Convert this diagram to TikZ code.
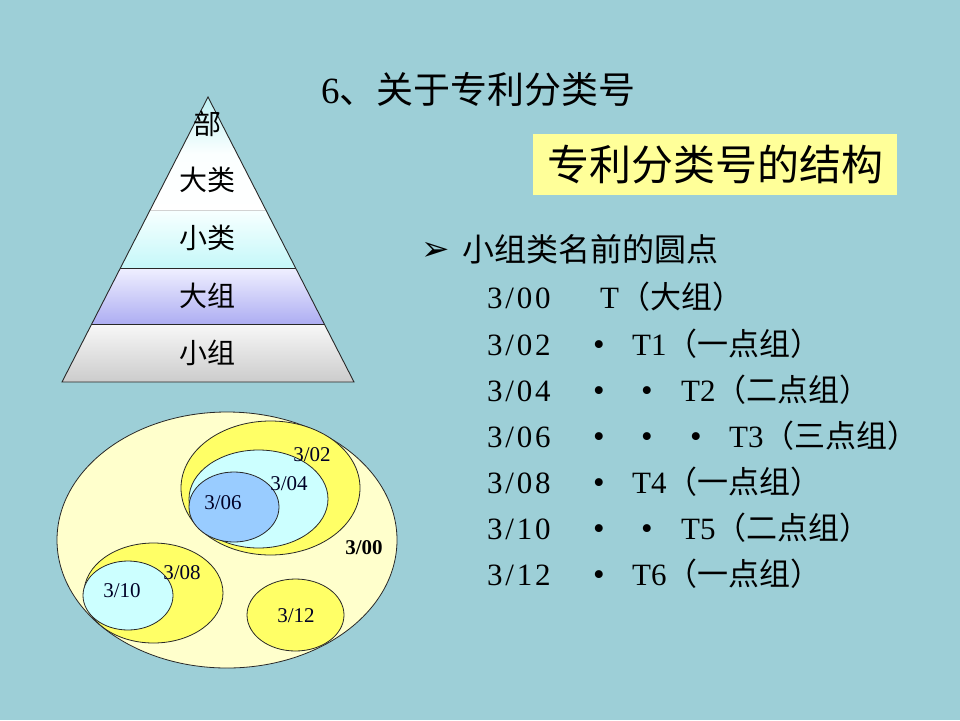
\documentclass[tikz,border=0pt]{standalone}
\usepackage{fontspec}
\setmainfont{Liberation Serif}
\newfontfamily\cjk{Noto Sans CJK SC}
\newfontfamily\djv{DejaVu Sans}
\newfontfamily\numf[LetterSpace=9]{Liberation Serif}
\definecolor{bg}{RGB}{157,207,215}
\definecolor{boxy}{RGB}{255,255,153}
\definecolor{pale}{RGB}{255,255,204}
\definecolor{yel}{RGB}{255,255,102}
\definecolor{lcyan}{RGB}{204,255,255}
\definecolor{lblue}{RGB}{153,204,255}
\definecolor{edge}{RGB}{40,40,40}
\begin{document}
\begin{tikzpicture}[x=1pt,y=-1pt,
  pyrtxt/.style={font=\cjk\fontsize{28}{30}\selectfont, inner sep=0pt},
  ell/.style={draw=edge, line width=0.8pt},
  lbl/.style={font=\fontsize{21}{24}\selectfont, inner sep=0pt, text=black!85!blue},
  rowtxt/.style={font=\fontsize{31}{36}\selectfont, anchor=west, inner sep=0pt, text height=26pt, text depth=6pt},
  numtxt/.style={rowtxt, font=\numf\fontsize{31}{36}\selectfont},
  dotn/.style={font=\fontsize{33}{36}\selectfont, inner sep=0pt, text height=21pt, text depth=0pt}
]
\useasboundingbox (0,0) rectangle (960,720);
\fill[bg] (0,0) rectangle (960,720);

% ---------- pyramid ----------
\coordinate (A) at (208,97);
\coordinate (L1) at (150.1,210); \coordinate (R1) at (265.9,210);
\coordinate (L2) at (120.4,268); \coordinate (R2) at (295.6,268);
\coordinate (L3) at (91.7,324);  \coordinate (R3) at (324.3,324);
\coordinate (L4) at (62,382);    \coordinate (R4) at (354,382);
\shade[top color=lcyan!70!bg, bottom color=white, middle color=white!92!lcyan] (A) -- (R1) -- (L1) -- cycle;
\shade[top color=white!85!lcyan, bottom color=lcyan!85!bg] (L1) -- (R1) -- (R2) -- (L2) -- cycle;
\shade[top color=blue!6!white, bottom color=blue!30!white!90!gray] (L2) -- (R2) -- (R3) -- (L3) -- cycle;
\shade[top color=gray!6, bottom color=gray!40] (L3) -- (R3) -- (R4) -- (L4) -- cycle;
\draw[gray!35, line width=0.8pt] (L1) -- (R1);
\draw[edge, line width=0.9pt] (L2) -- (R2) (L3) -- (R3);
\draw[edge, line width=0.9pt, line join=miter] (A) -- (R4) -- (L4) -- cycle;
\node[pyrtxt] (bu) at (207,124) {部};
\node[pyrtxt] (dl) at (207,180) {大类};
\node[pyrtxt] (xl) at (207,238) {小类};
\node[pyrtxt] (dz) at (207,296) {大组};
\node[pyrtxt] (xz) at (207,353) {小组};

% ---------- ellipses ----------
\filldraw[ell, fill=pale]  (227,540) ellipse [x radius=170pt, y radius=128pt];
\filldraw[ell, fill=yel]   (270.5,488) ellipse [x radius=89.5pt, y radius=67pt];
\filldraw[ell, fill=lcyan] (258.5,499) ellipse [x radius=69.5pt, y radius=49pt];
\filldraw[ell, fill=lblue] (234,507) ellipse [x radius=45pt, y radius=35pt];
\filldraw[ell, fill=yel]   (153.5,593) ellipse [x radius=69.5pt, y radius=50pt];
\filldraw[ell, fill=lcyan] (128,595.5) ellipse [x radius=45pt, y radius=34.5pt];
\filldraw[ell, fill=yel]   (295.5,615) ellipse [x radius=48.5pt, y radius=36pt];
\node[lbl] (e02) at (312,455) {3/02};
\node[lbl] (e04) at (289,484) {3/04};
\node[lbl] (e06) at (223,503) {3/06};
\node[lbl, font=\bfseries\fontsize{21}{24}\selectfont, text=black] (e00) at (364,548) {3/00};
\node[lbl] (e08) at (182,573) {3/08};
\node[lbl] (e10) at (122,591) {3/10};
\node[lbl] (e12) at (296,616) {3/12};

% ---------- title and box ----------
\node[anchor=west, inner sep=0pt, font=\fontsize{37}{40}\selectfont] (title) at (321,89) {6{\cjk 、关于专利分类号}};
\node[fill=boxy, minimum width=364pt, minimum height=61pt, inner sep=0pt,
      font=\cjk\fontsize{42}{44}\selectfont] (box) at (715,164.5) {专利分类号的结构};

% ---------- list ----------
\node[inner sep=0pt, font=\djv\fontsize{34}{36}\selectfont] (arr) at (436,251) {➢};
\node[rowtxt, font=\cjk\fontsize{32}{34}\selectfont] (head) at (462,251) {小组类名前的圆点};

\node[numtxt] (n0) at (487,298) {3/00};
\node[rowtxt] (t0) at (600,298) {T{\cjk （大组）}};

\node[numtxt] (n1) at (487,345) {3/02};
\node[dotn] (d11) at (599,345) {•};
\node[rowtxt] (t1) at (632,345) {T1{\cjk （一点组）}};

\node[numtxt] (n2) at (487,391) {3/04};
\node[dotn] (d21) at (599,391) {•};
\node[dotn] (d22) at (647,391) {•};
\node[rowtxt] (t2) at (681,391) {T2{\cjk （二点组）}};

\node[numtxt] (n3) at (487,437) {3/06};
\node[dotn] (d31) at (599,437) {•};
\node[dotn] (d32) at (647,437) {•};
\node[dotn] (d33) at (696,437) {•};
\node[rowtxt] (t3) at (729,437) {T3{\cjk （三点组）}};

\node[numtxt] (n4) at (487,483) {3/08};
\node[dotn] (d41) at (599,483) {•};
\node[rowtxt] (t4) at (632,483) {T4{\cjk （一点组）}};

\node[numtxt] (n5) at (487,529) {3/10};
\node[dotn] (d51) at (599,529) {•};
\node[dotn] (d52) at (647,529) {•};
\node[rowtxt] (t5) at (681,529) {T5{\cjk （二点组）}};

\node[numtxt] (n6) at (487,575) {3/12};
\node[dotn] (d61) at (599,575) {•};
\node[rowtxt] (t6) at (632,575) {T6{\cjk （一点组）}};
\end{tikzpicture}
\end{document}
